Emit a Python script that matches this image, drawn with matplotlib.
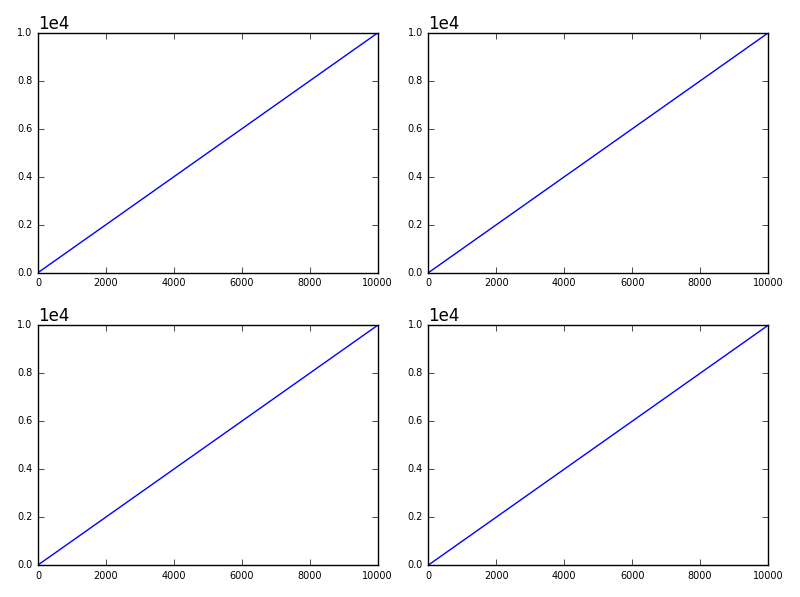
import matplotlib
matplotlib.use("Agg")
import matplotlib.pyplot as plt

plt.style.use('classic')

x_values = [0, 10000]
y_values = [0, 10000]
x_ticks = [0, 2000, 4000, 6000, 8000, 10000]
y_ticks = [0, 2000, 4000, 6000, 8000, 10000]

fig, axes = plt.subplots(2, 2, figsize=(8, 5.97), dpi=100)
fig.patch.set_facecolor('white')
fig.subplots_adjust(left=0.0475, right=0.96, top=0.9447, bottom=0.0536,
                    wspace=0.15, hspace=0.22)

for ax in axes.flat:
    ax.plot(x_values, y_values, color='b')
    ax.set_xlim(0, 10000)
    ax.set_ylim(0, 10000)
    ax.set_xticks(x_ticks)
    ax.set_yticks(y_ticks)
    ax.ticklabel_format(axis='y', style='sci', scilimits=(0, 0))
    ax.tick_params(labelsize=7)
    ax.yaxis.get_offset_text().set_fontsize(12)

fig.savefig('out.png', dpi=100, facecolor='white')
